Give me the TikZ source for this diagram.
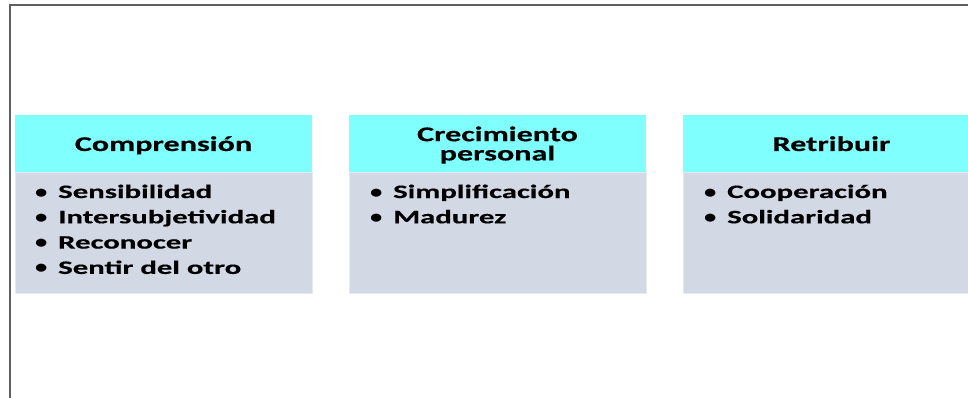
\documentclass[tikz,border=0pt]{standalone}
\usepackage{fontspec}
\setmainfont{Carlito}
\newfontfamily\bodyfont{Carlito}[FakeStretch=1.62,FakeBold=0.4]
\newfontfamily\hdrfont{Carlito}[FakeStretch=1.53,FakeBold=0.4]
\newfontfamily\bulfont{Carlito}[FakeStretch=1.3]
\definecolor{hdrcol}{RGB}{128,255,255}
\definecolor{bodycol}{RGB}{210,216,228}
\definecolor{edgecol}{RGB}{228,234,240}
\definecolor{framecol}{RGB}{96,96,96}
\newcommand{\bul}{\makebox[24pt][l]{\hspace{1pt}{\bulfont\bfseries •}}}
\begin{document}
\begin{tikzpicture}[x=1pt,y=-1pt,
  hdrbox/.style={fill=hdrcol, draw=none, minimum width=297pt, minimum height=57pt, anchor=north west, inner sep=0pt},
  hdrtext/.style={anchor=base, inner sep=0pt, align=center, font=\hdrfont\bfseries\fontsize{21}{19.2}\selectfont},
  bodybox/.style={fill=bodycol, draw=edgecol, line width=0.8pt, minimum width=297pt, minimum height=121pt, anchor=north west, inner sep=0pt},
  item/.style={anchor=base west, inner sep=0pt, font=\bodyfont\bfseries\fontsize{19}{19}\selectfont}]
\useasboundingbox (0,0) rectangle (968,398);
\clip (0,0) rectangle (968,398);
\fill[white] (0,0) rectangle (968,398);
% frame
\draw[framecol, line width=2pt] (10,398) -- (10,5.5) -- (968,5.5);
% box 1
\node[bodybox] (b1) at (15,172) {};
\node[hdrbox] (h1) at (15,115) {};
\node[hdrtext] (t1) at (163.5,151) {Comprensión};
\node[item] (i11) at (34,198) {\bul Sensibilidad};
\node[item] (i12) at (34,223.3) {\bul Intersubjetividad};
\node[item] (i13) at (34,248.6) {\bul Reconocer};
\node[item] (i14) at (34,273.9) {\bul Sentir del otro};
% box 2
\node[bodybox] (b2) at (349,172) {};
\node[hdrbox] (h2) at (349,115) {};
\node[hdrtext] (t2) at (497.5,160.4) {Crecimiento\\personal};
\node[item] (i21) at (369,198) {\bul Simplificación};
\node[item] (i22) at (369,223.3) {\bul Madurez};
% box 3
\node[bodybox] (b3) at (683,172) {};
\node[hdrbox] (h3) at (683,115) {};
\node[hdrtext] (t3) at (831.5,151) {Retribuir};
\node[item] (i31) at (703,198) {\bul Cooperación};
\node[item] (i32) at (703,223.3) {\bul Solidaridad};
\end{tikzpicture}
\end{document}
